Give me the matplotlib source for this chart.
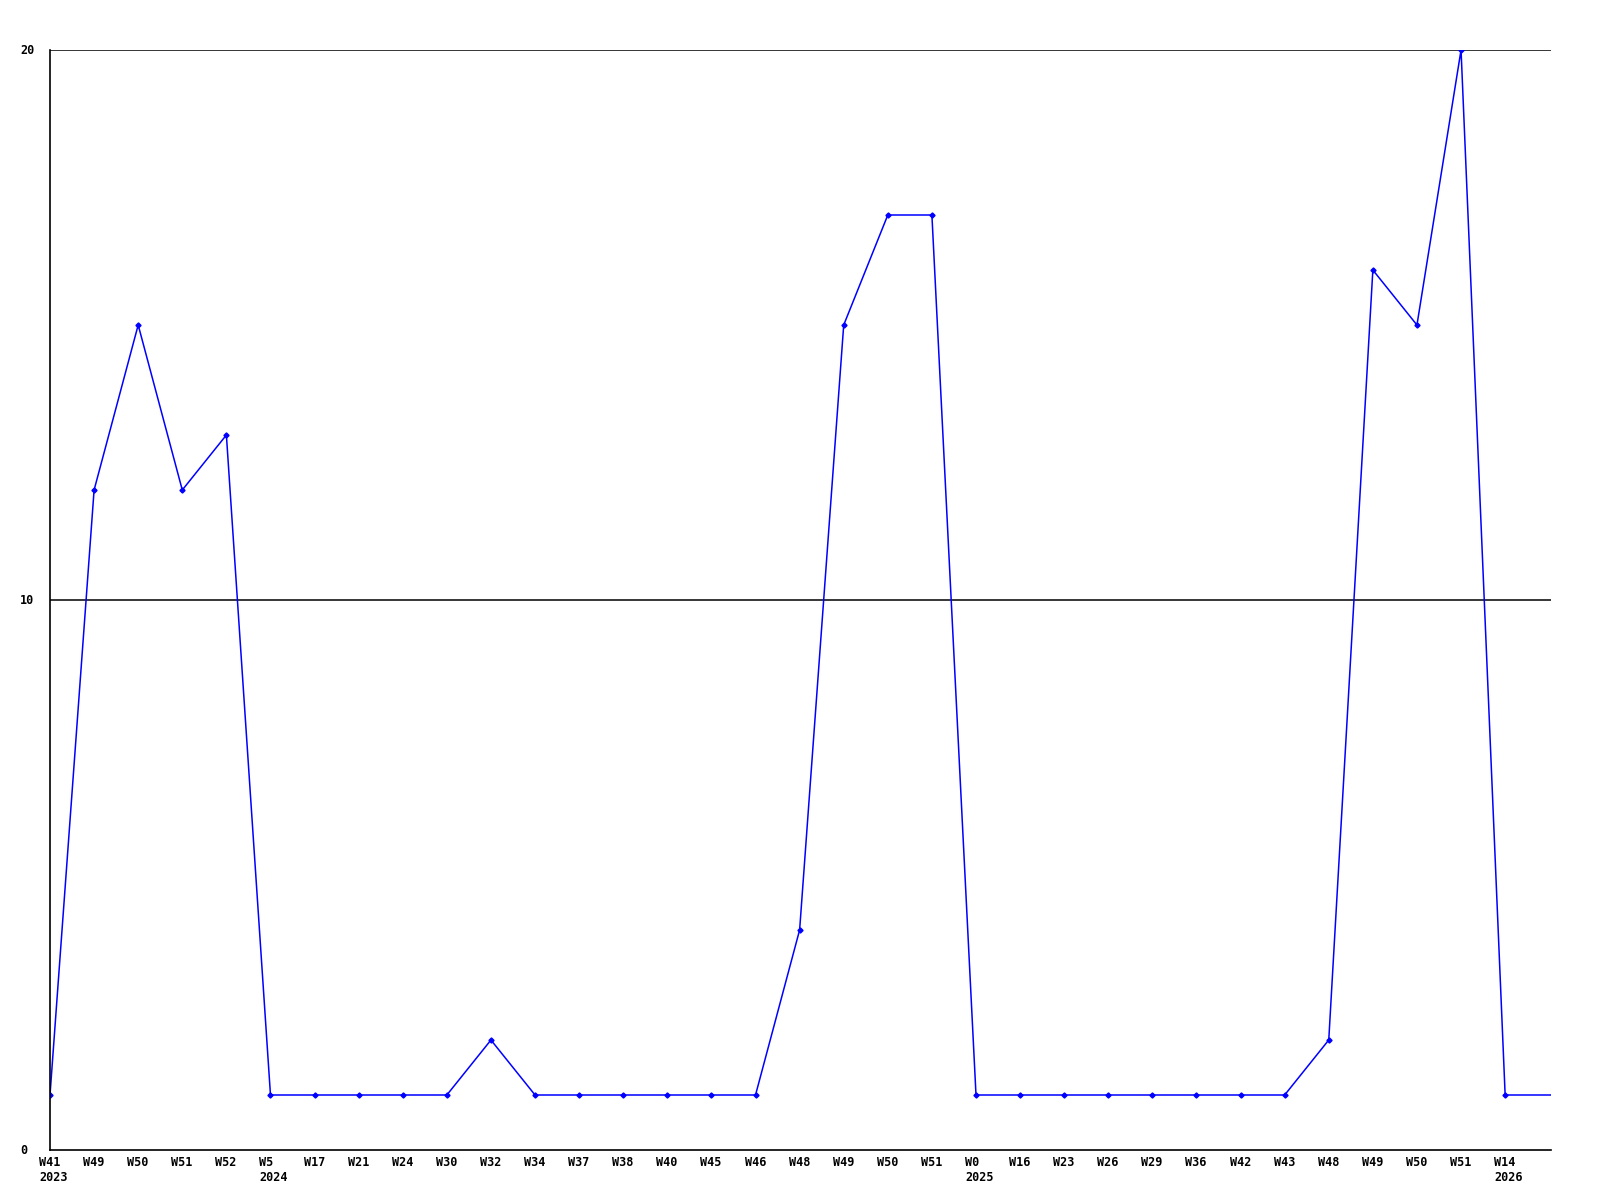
import matplotlib
matplotlib.use("Agg")
import matplotlib.pyplot as plt
from matplotlib.transforms import offset_copy

weeks = ["W41", "W49", "W50", "W51", "W52", "W5", "W17", "W21", "W24", "W30", "W32",
         "W34", "W37", "W38", "W40", "W45", "W46", "W48", "W49", "W50", "W51", "W0",
         "W16", "W23", "W26", "W29", "W36", "W42", "W43", "W48", "W49", "W50", "W51", "W14"]
years = {0: "2023", 5: "2024", 21: "2025", 33: "2026"}
values = [1, 12, 15, 12, 13, 1, 1, 1, 1, 1, 2, 1, 1, 1, 1, 1, 1, 4, 15, 17, 17, 1,
          1, 1, 1, 1, 1, 1, 1, 2, 16, 15, 20, 1]
yticks = [0, 10, 20]

fig = plt.figure(figsize=(16, 12), dpi=100)
ax = fig.add_axes([50/1600, 1 - 1150/1200, (1551 - 50)/1600, 1100/1200])
x = list(range(len(values)))
xmax = 34.04
ax.plot(x + [xmax], values + [values[-1]], color="#0000ff", lw=1.1,
        marker="D", markersize=2.6, markevery=list(range(len(values))),
        solid_joinstyle="miter")
ax.set_xlim(0, xmax)
ax.set_ylim(0, 20)
for s in ["top", "right"]:
    ax.spines[s].set_visible(False)
for s in ["left", "bottom"]:
    ax.spines[s].set_linewidth(1.2)
    ax.spines[s].set_color("black")
for yv in yticks[1:]:
    ax.axhline(yv, color="black", lw=1.1, zorder=0)
ax.set_xticks([])
ax.set_yticks([])

font = dict(family="DejaVu Sans Mono", weight="bold", fontsize=8.5)
for i, w in enumerate(weeks):
    lab = w + ("\n" + years[i] if i in years else "")
    tr = offset_copy(ax.get_xaxis_transform(), fig=fig, x=-11, y=-6, units="dots")
    ax.text(i, 0, lab, transform=tr, ha="left", va="top", linespacing=1.2, **font)
for yv in yticks:
    fig.text(20/1600, 1 - (1150 - yv * 55)/1200, str(yv), ha="left", va="center", **font)

fig.savefig("out.png", dpi=100, facecolor="white")
